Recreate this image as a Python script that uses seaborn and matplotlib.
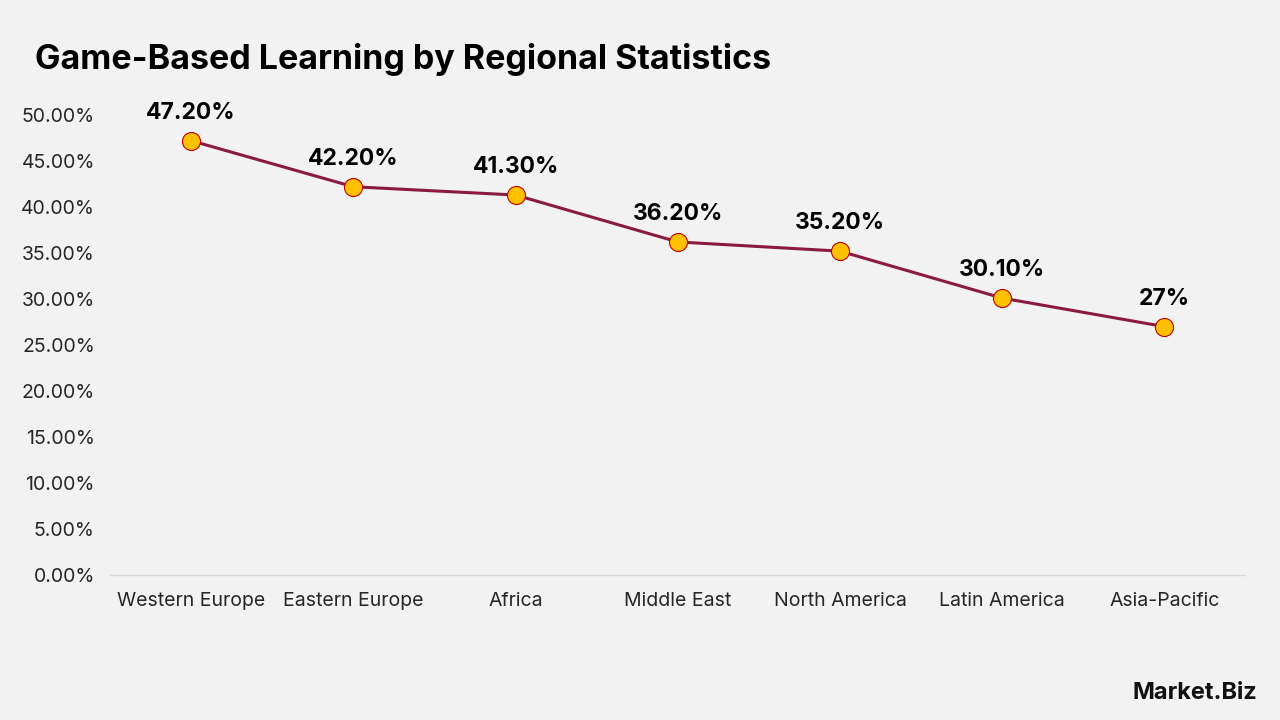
import pandas as pd
import numpy as np
import seaborn as sns
import matplotlib.pyplot as plt

regions = ["Western Europe", "Eastern Europe", "Africa", "Middle East",
           "North America", "Latin America", "Asia-Pacific"]
share = [47.2, 42.2, 41.3, 36.2, 35.2, 30.1, 27.0]
labels = ["47.20%", "42.20%", "41.30%", "36.20%", "35.20%", "30.10%", "27%"]
yticks = [0, 5, 10, 15, 20, 25, 30, 35, 40, 45, 50]

df = pd.DataFrame({"region": regions, "share": share})

sns.set_style("white")
plt.rcParams['font.family'] = ['Inter', 'DejaVu Sans']

fig = plt.figure(figsize=(12.8, 7.2), dpi=100, facecolor="#f2f2f2")
ax = fig.add_axes([0.086, 0.2014, 0.887, 0.6389])
ax.set_facecolor("#f2f2f2")

sns.lineplot(data=df, x="region", y="share", ax=ax, sort=False,
             color="#8b1a42", linewidth=2.2, marker="o", markersize=13,
             markerfacecolor="#ffc000", markeredgecolor="#c00000",
             markeredgewidth=0.8)

for i, (v, t) in enumerate(zip(share, labels)):
    ax.annotate(t, (i, v), xytext=(0, 12), textcoords="offset points",
                ha="center", va="bottom", fontsize=16.5, fontweight="bold",
                color="black")

ax.set_xlim(-0.5, len(regions) - 0.5)
ax.set_ylim(0, 50)
ax.set_yticks(yticks)
ax.set_yticklabels([f"{t:.2f}%" for t in yticks])
ax.set_xlabel("")
ax.set_ylabel("")
ax.tick_params(axis="both", length=0, labelsize=14, colors="#262626")
ax.tick_params(axis="x", pad=12)
ax.tick_params(axis="y", pad=11)
for s in ["top", "right", "left"]:
    ax.spines[s].set_visible(False)
ax.spines["bottom"].set_color("#d9d9d9")
ax.spines["bottom"].set_linewidth(1)

fig.text(0.027, 0.918, "Game-Based Learning by Regional Statistics",
         fontsize=24.5, fontweight="bold", color="black", va="center", ha="left")

fig.text(0.982, 0.037, "Market.Biz", fontsize=17, fontweight="bold",
         color="#111111", ha="right", va="center")

fig.savefig("out.png", dpi=100, facecolor=fig.get_facecolor())
